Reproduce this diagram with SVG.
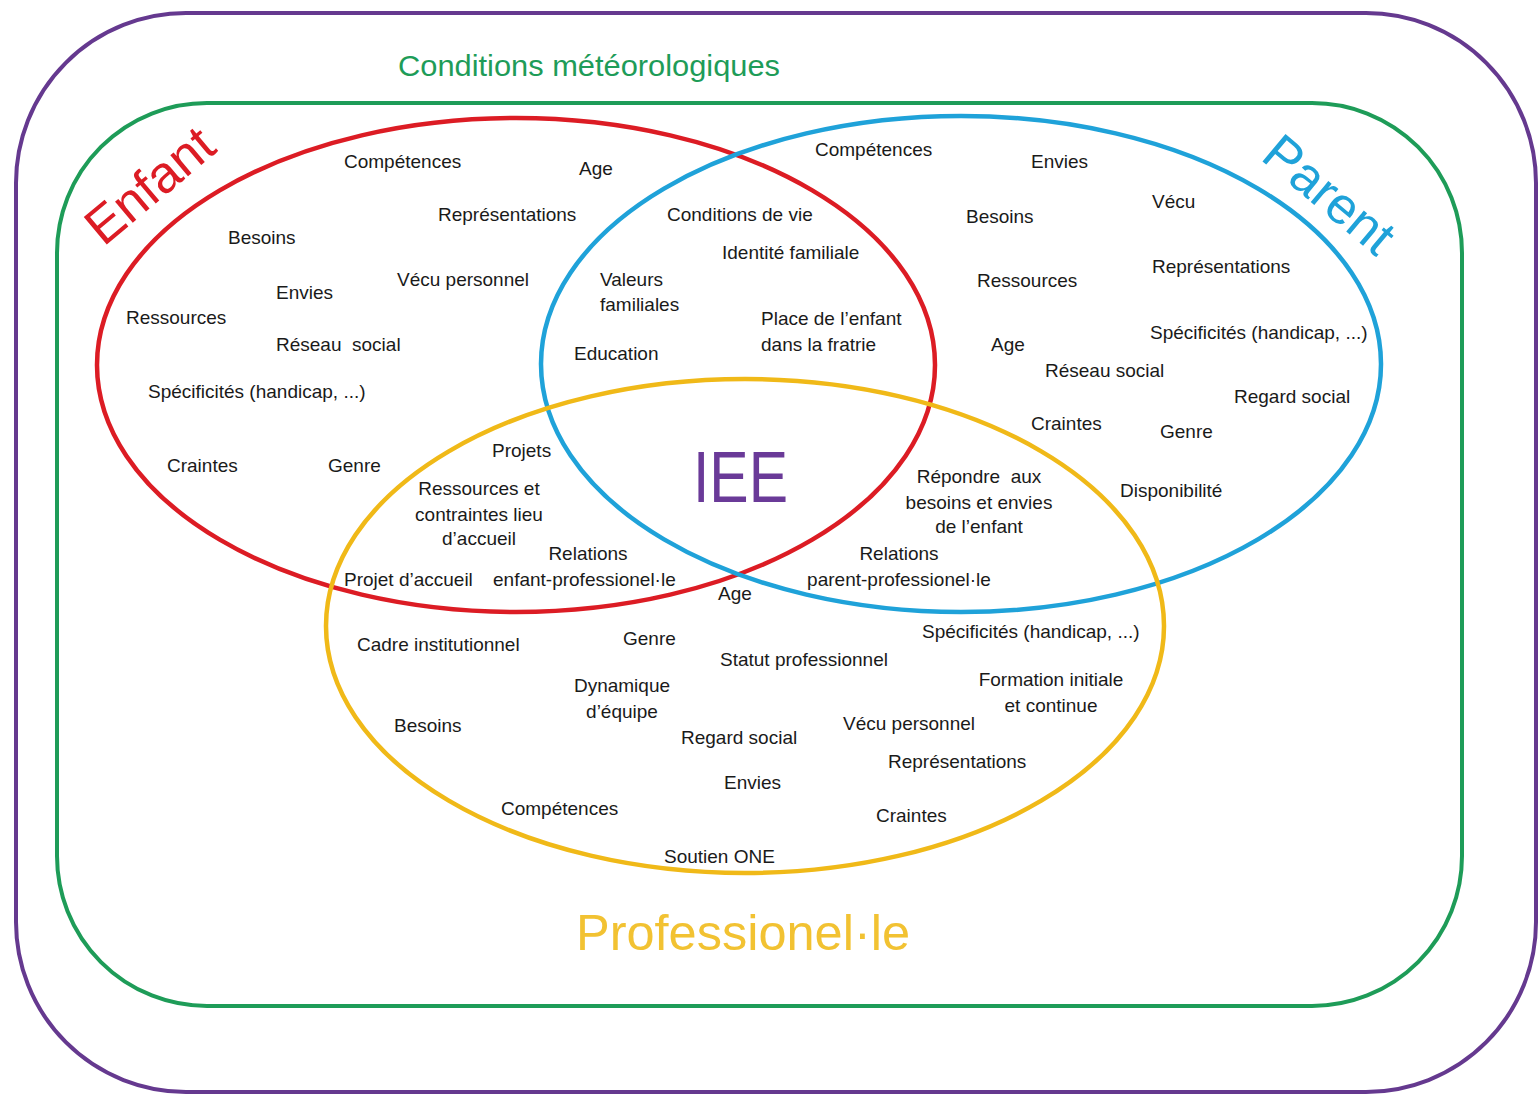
<svg xmlns="http://www.w3.org/2000/svg" width="1539" height="1095" viewBox="0 0 1539 1095">
<style>
.t{font-family:"Liberation Sans",Arial,sans-serif;font-size:19px;fill:#1a1a1a}
.m{text-anchor:middle}
.frame{fill:none;stroke-width:4}
.set{fill:none;stroke-width:4.5}
</style>
<rect width="1539" height="1095" fill="#ffffff"/>
<g id="meteo">
<rect class="frame" x="16" y="13" width="1520" height="1079" rx="170" ry="170" stroke="#65398f"/>
<text x="398" y="76" font-family="Liberation Sans, Arial, sans-serif" font-size="30" fill="#1e9c58" textLength="382" lengthAdjust="spacingAndGlyphs">Conditions météorologiques</text>
</g>
<g id="contexte">
<rect class="frame" x="57" y="103" width="1405" height="903" rx="150" ry="150" stroke="#1e9c58"/>
</g>
<g id="enfant">
<ellipse class="set" cx="516" cy="365" rx="419" ry="247" stroke="#dc1c24"/>
<text transform="translate(161,199) rotate(-40)" text-anchor="middle" font-family="Liberation Sans, Arial, sans-serif" font-size="52" fill="#dc1c24">Enfant</text>
<text class="t" x="344" y="168">Compétences</text>
<text class="t" x="579" y="175">Age</text>
<text class="t" x="438" y="221">Représentations</text>
<text class="t" x="228" y="244">Besoins</text>
<text class="t" x="397" y="286">Vécu personnel</text>
<text class="t" x="276" y="299">Envies</text>
<text class="t" x="126" y="324">Ressources</text>
<text class="t" x="276" y="351" xml:space="preserve">Réseau  social</text>
<text class="t" x="148" y="398">Spécificités (handicap, ...)</text>
<text class="t" x="167" y="472">Craintes</text>
<text class="t" x="328" y="472">Genre</text>
</g>
<g id="parent">
<ellipse class="set" cx="961" cy="364" rx="420" ry="248" stroke="#1fa2d9"/>
<text transform="translate(1318,208) rotate(40)" text-anchor="middle" font-family="Liberation Sans, Arial, sans-serif" font-size="52" fill="#1fa2d9">Parent</text>
<text class="t" x="815" y="156">Compétences</text>
<text class="t" x="1031" y="168">Envies</text>
<text class="t" x="1152" y="208">Vécu</text>
<text class="t" x="966" y="223">Besoins</text>
<text class="t" x="1152" y="273">Représentations</text>
<text class="t" x="977" y="287">Ressources</text>
<text class="t" x="1150" y="339">Spécificités (handicap, ...)</text>
<text class="t" x="991" y="351">Age</text>
<text class="t" x="1045" y="377">Réseau social</text>
<text class="t" x="1234" y="403">Regard social</text>
<text class="t" x="1031" y="430">Craintes</text>
<text class="t" x="1160" y="438">Genre</text>
<text class="t" x="1120" y="497">Disponibilité</text>
</g>
<g id="professionnel">
<ellipse class="set" cx="745" cy="626" rx="419" ry="247" stroke="#f0b918"/>
<text x="743" y="950" text-anchor="middle" font-family="Liberation Sans, Arial, sans-serif" font-size="50" fill="#f2c232" textLength="334" lengthAdjust="spacingAndGlyphs">Professionel·le</text>
<text class="t" x="357" y="651">Cadre institutionnel</text>
<text class="t" x="623" y="645">Genre</text>
<text class="t" x="922" y="638">Spécificités (handicap, ...)</text>
<text class="t" x="720" y="666">Statut professionnel</text>
<text class="t m" x="1051" y="686">Formation initiale</text>
<text class="t m" x="1051" y="712">et continue</text>
<text class="t m" x="622" y="692">Dynamique</text>
<text class="t m" x="622" y="718">d’équipe</text>
<text class="t" x="394" y="732">Besoins</text>
<text class="t" x="843" y="730">Vécu personnel</text>
<text class="t" x="681" y="744">Regard social</text>
<text class="t" x="888" y="768">Représentations</text>
<text class="t" x="724" y="789">Envies</text>
<text class="t" x="501" y="815">Compétences</text>
<text class="t" x="876" y="822">Craintes</text>
<text class="t" x="664" y="863">Soutien ONE</text>
</g>
<g id="enfant-parent">
<text class="t" x="667" y="221">Conditions de vie</text>
<text class="t" x="722" y="259">Identité familiale</text>
<text class="t" x="600" y="286">Valeurs</text>
<text class="t" x="600" y="311">familiales</text>
<text class="t" x="761" y="325">Place de l’enfant</text>
<text class="t" x="761" y="351">dans la fratrie</text>
<text class="t" x="574" y="360">Education</text>
</g>
<g id="enfant-professionnel">
<text class="t" x="492" y="457">Projets</text>
<text class="t m" x="479" y="495">Ressources et</text>
<text class="t m" x="479" y="521">contraintes lieu</text>
<text class="t m" x="479" y="545">d’accueil</text>
<text class="t m" x="588" y="560">Relations</text>
<text class="t" x="493" y="586">enfant-professionel·le</text>
<text class="t" x="344" y="586">Projet d’accueil</text>
</g>
<g id="parent-professionnel">
<text class="t m" x="979" y="483" xml:space="preserve">Répondre  aux</text>
<text class="t m" x="979" y="509">besoins et envies</text>
<text class="t m" x="979" y="533">de l’enfant</text>
<text class="t m" x="899" y="560">Relations</text>
<text class="t m" x="899" y="586">parent-professionel·le</text>
</g>
<g id="iee">
<text x="693" y="502" font-family="Liberation Sans, Arial, sans-serif" font-size="72" fill="#6a3a98" textLength="95" lengthAdjust="spacingAndGlyphs">IEE</text>
<text class="t" x="718" y="600">Age</text>
</g>
<g id="connectors"></g>
</svg>
